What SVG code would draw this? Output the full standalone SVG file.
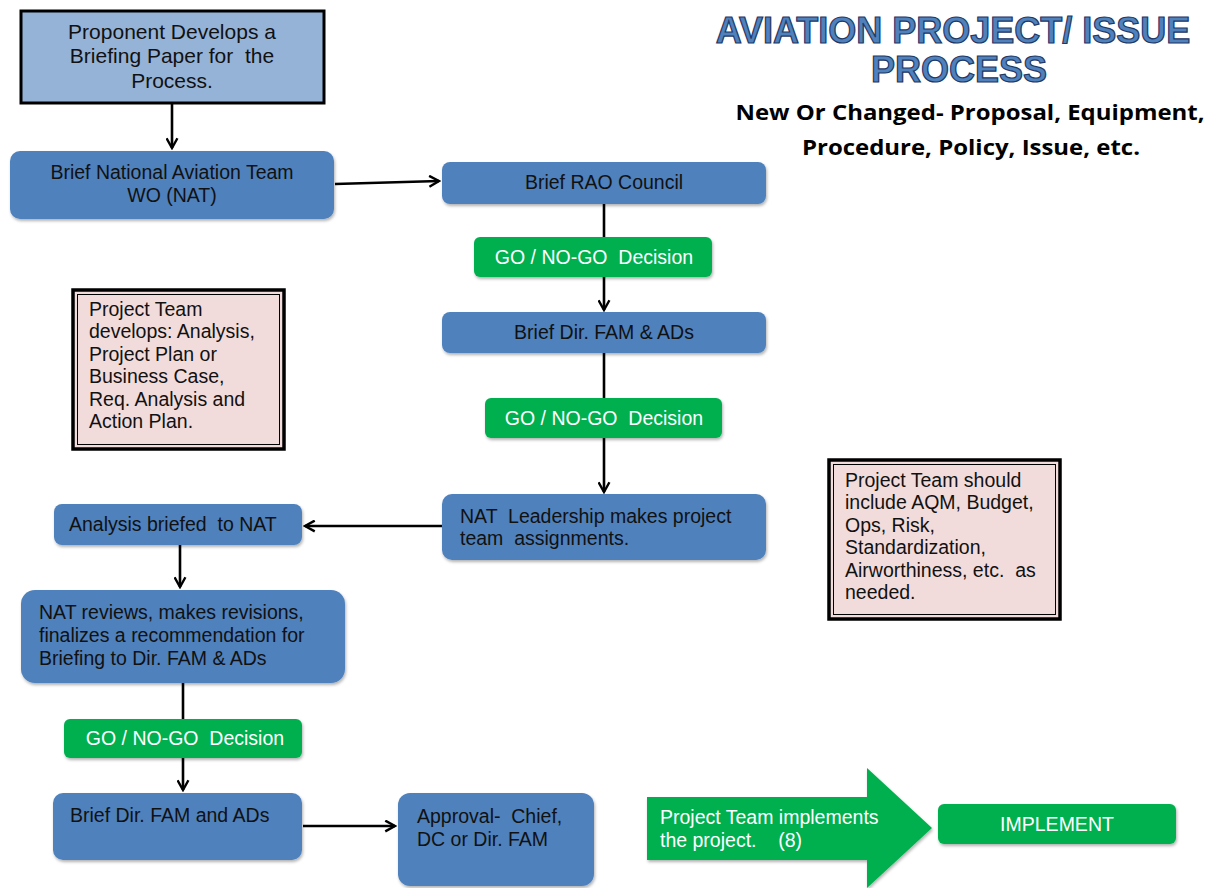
<svg xmlns="http://www.w3.org/2000/svg" width="1209" height="888" viewBox="0 0 1209 888">
<style>
text{font-family:"Liberation Sans",Arial,sans-serif;font-size:19.5px;fill:#111;white-space:pre}
.blue{fill:#4f81bd}
.green{fill:#00b050}
.pink{fill:#f2dcdb}
.wt{fill:#fff}
.c{text-anchor:middle}
.conn{stroke:#000;stroke-width:2.6;fill:none}
.title{font-family:"Liberation Sans",Arial,sans-serif;font-weight:bold;font-size:36px;fill:#4f81bd;stroke:#1f3864;stroke-width:1.2;text-anchor:middle}
.sub{font-family:"Open Sans","Liberation Sans",sans-serif;font-weight:bold;font-size:22px;fill:#000;text-anchor:middle}
</style>
<defs>
<marker id="ah" viewBox="0 0 12 12" refX="10" refY="6" markerWidth="5" markerHeight="5" orient="auto" markerUnits="strokeWidth">
<path d="M1,1 L10,6 L1,11" fill="none" stroke="#000" stroke-width="2.2"/>
</marker>
<filter id="sh" x="-10%" y="-10%" width="120%" height="130%">
<feDropShadow dx="1" dy="2" stdDeviation="1.5" flood-color="#000" flood-opacity="0.3"/>
</filter>
</defs>

<g id="title">
<text class="title" x="953" y="43">AVIATION PROJECT/ ISSUE</text>
<text class="title" x="959" y="82">PROCESS</text>
<text class="sub" x="970" y="120" textLength="469" lengthAdjust="spacingAndGlyphs">New Or Changed- Proposal, Equipment,</text>
<text class="sub" x="971" y="155" textLength="338" lengthAdjust="spacingAndGlyphs">Procedure, Policy, Issue, etc.</text>
</g>

<g id="connectors">
<line class="conn" x1="172" y1="104" x2="172" y2="148" marker-end="url(#ah)"/>
<line class="conn" x1="335" y1="184" x2="439" y2="181" marker-end="url(#ah)"/>
<line class="conn" x1="604" y1="204" x2="604" y2="237"/>
<line class="conn" x1="604" y1="277" x2="604" y2="310" marker-end="url(#ah)"/>
<line class="conn" x1="604" y1="353" x2="604" y2="398"/>
<line class="conn" x1="604" y1="438" x2="604" y2="492" marker-end="url(#ah)"/>
<line class="conn" x1="442" y1="526" x2="305" y2="526" marker-end="url(#ah)"/>
<line class="conn" x1="180" y1="545" x2="180" y2="587" marker-end="url(#ah)"/>
<line class="conn" x1="183" y1="683" x2="183" y2="719"/>
<line class="conn" x1="183" y1="758" x2="183" y2="790" marker-end="url(#ah)"/>
<line class="conn" x1="303" y1="826" x2="395" y2="826" marker-end="url(#ah)"/>
</g>

<g id="n-proponent">
<rect x="21" y="11" width="303" height="92" fill="#95b3d7" stroke="#000" stroke-width="3"/>
<text class="c" x="172" y="39" style="font-size:21px">Proponent Develops a</text>
<text class="c" x="172" y="63" style="font-size:21px">Briefing Paper for  the</text>
<text class="c" x="172" y="88" style="font-size:21px">Process.</text>
</g>

<g id="n-brief-nat">
<rect class="blue" x="10" y="151" width="324" height="68" rx="10" filter="url(#sh)"/>
<text class="c" x="172" y="179">Brief National Aviation Team</text>
<text class="c" x="172" y="202">WO (NAT)</text>
</g>

<g id="n-rao">
<rect class="blue" x="442" y="162" width="324" height="42" rx="8" filter="url(#sh)"/>
<text class="c" x="604" y="189">Brief RAO Council</text>
</g>

<g id="n-go1">
<rect class="green" x="474" y="237" width="238" height="40" rx="6" filter="url(#sh)"/>
<text class="c wt" x="594" y="264">GO / NO-GO  Decision</text>
</g>

<g id="n-dirfam1">
<rect class="blue" x="442" y="312" width="324" height="41" rx="8" filter="url(#sh)"/>
<text class="c" x="604" y="339">Brief Dir. FAM &amp; ADs</text>
</g>

<g id="n-go2">
<rect class="green" x="485" y="398" width="237" height="40" rx="6" filter="url(#sh)"/>
<text class="c wt" x="604" y="425">GO / NO-GO  Decision</text>
</g>

<g id="n-nat-lead">
<rect class="blue" x="442" y="494" width="324" height="66" rx="10" filter="url(#sh)"/>
<text x="460" y="523">NAT  Leadership makes project</text>
<text x="460" y="545">team  assignments.</text>
</g>

<g id="n-analysis">
<rect class="blue" x="54" y="504" width="248" height="41" rx="8" filter="url(#sh)"/>
<text x="69" y="531">Analysis briefed  to NAT</text>
</g>

<g id="n-nat-reviews">
<rect class="blue" x="21" y="590" width="324" height="93" rx="14" filter="url(#sh)"/>
<text x="39" y="619">NAT reviews, makes revisions,</text>
<text x="39" y="642">finalizes a recommendation for</text>
<text x="39" y="665">Briefing to Dir. FAM &amp; ADs</text>
</g>

<g id="n-go3">
<rect class="green" x="64" y="719" width="238" height="39" rx="6" filter="url(#sh)"/>
<text class="c wt" x="185" y="745">GO / NO-GO  Decision</text>
</g>

<g id="n-dirfam2">
<rect class="blue" x="53" y="793" width="249" height="67" rx="10" filter="url(#sh)"/>
<text x="70" y="822">Brief Dir. FAM and ADs</text>
</g>

<g id="n-approval">
<rect class="blue" x="398" y="793" width="196" height="93" rx="12" filter="url(#sh)"/>
<text x="417" y="823">Approval-  Chief,</text>
<text x="417" y="846">DC or Dir. FAM</text>
</g>

<g id="n-pink1">
<rect class="pink" x="73" y="290" width="211" height="159" stroke="#000" stroke-width="3.5"/>
<rect x="77.5" y="294.5" width="202" height="150" fill="none" stroke="#000" stroke-width="1"/>
<text x="89" y="316">Project Team</text>
<text x="89" y="338">develops: Analysis,</text>
<text x="89" y="361">Project Plan or</text>
<text x="89" y="383">Business Case,</text>
<text x="89" y="406">Req. Analysis and</text>
<text x="89" y="428">Action Plan.</text>
</g>

<g id="n-pink2">
<rect class="pink" x="829" y="460" width="231" height="159" stroke="#000" stroke-width="3.5"/>
<rect x="833.5" y="464.5" width="222" height="150" fill="none" stroke="#000" stroke-width="1"/>
<text x="845" y="487">Project Team should</text>
<text x="845" y="509">include AQM, Budget,</text>
<text x="845" y="532">Ops, Risk,</text>
<text x="845" y="554">Standardization,</text>
<text x="845" y="577">Airworthiness, etc.  as</text>
<text x="845" y="599">needed.</text>
</g>

<g id="n-big-arrow">
<path class="green" d="M647,797 L867,797 L867,768 L932,828 L867,888 L867,860 L647,860 Z" filter="url(#sh)"/>
<text class="wt" x="660" y="824">Project Team implements</text>
<text class="wt" x="660" y="847">the project.    (8)</text>
</g>

<g id="n-implement">
<rect class="green" x="938" y="804" width="238" height="40" rx="6" filter="url(#sh)"/>
<text class="c wt" x="1057" y="831">IMPLEMENT</text>
</g>
</svg>
